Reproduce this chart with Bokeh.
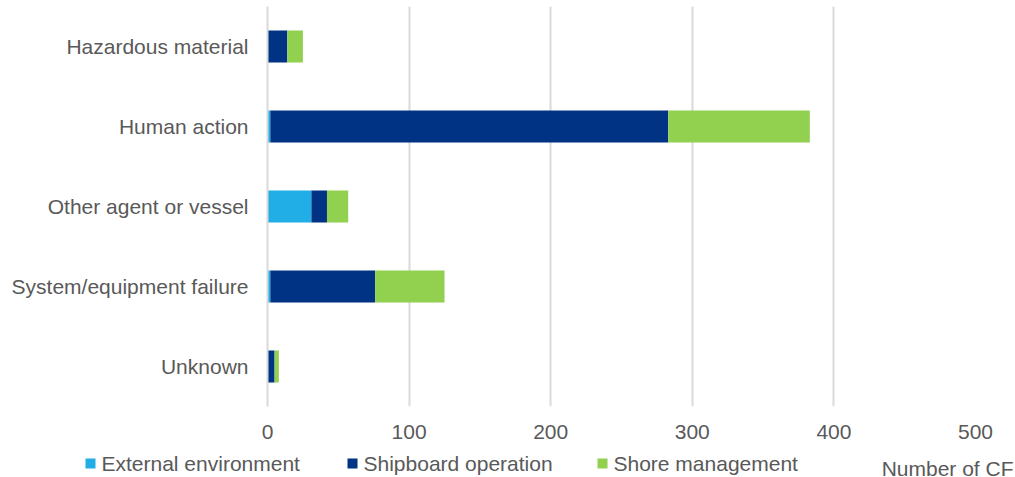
from bokeh.plotting import figure
from bokeh.models import Range1d, FactorRange, FixedTicker, ColumnDataSource
from bokeh.core.properties import value
from bokeh.embed import file_html
from bokeh.resources import INLINE

categories = ["Hazardous material", "Human action", "Other agent or vessel",
              "System/equipment failure", "Unknown"]
external = [0, 2, 31, 2, 0]
shipboard = [14, 281, 11, 74, 5]
shore = [11, 100, 15, 49, 3]
series = ["External environment", "Shipboard operation", "Shore management"]
colors = ["#21ADE5", "#003383", "#92D050"]
x_ticks = [0, 100, 200, 300, 400, 500]
x_title = "Number of CF"

FONT = "Liberation Sans"
TXT = "#595959"

source = ColumnDataSource(dict(cat=categories, ext=external, ship=shipboard, shore=shore))

p = figure(width=1015, height=451, output_backend="svg", toolbar_location=None,
           y_range=FactorRange(factors=list(reversed(categories))),
           x_range=Range1d(0, 500),
           min_border_left=267, min_border_right=40, min_border_top=6, min_border_bottom=45)
p.outline_line_color = None
p.background_fill_color = "white"

p.hbar_stack(["ext", "ship", "shore"], y="cat", height=0.4, color=colors,
             line_color=None, source=source)

p.xaxis.ticker = FixedTicker(ticks=x_ticks)
p.xaxis.axis_line_color = None
p.xaxis.major_tick_line_color = None
p.xaxis.minor_tick_line_color = None
p.xaxis.major_tick_out = 0
p.xaxis.major_tick_in = 0
p.xaxis.major_label_text_font = FONT
p.xaxis.major_label_text_font_size = "21px"
p.xaxis.major_label_text_color = TXT
p.xaxis.major_label_standoff = 18

p.yaxis.axis_line_color = "#d9d9d9"
p.yaxis.axis_line_width = 2
p.yaxis.major_tick_line_color = None
p.yaxis.minor_tick_line_color = None
p.yaxis.major_label_text_font = FONT
p.yaxis.major_label_text_font_size = "21px"
p.yaxis.major_label_text_color = TXT
p.yaxis.major_label_standoff = 13

p.ygrid.grid_line_color = None
p.xgrid.grid_line_color = "#d9d9d9"
p.xgrid.grid_line_width = 2

# bottom strip (separate root, pixel-scaled frame) holding the legend row and the axis title
Q_H = 30
q = figure(width=1015, height=Q_H, output_backend="svg", toolbar_location=None,
           x_range=Range1d(0, 1015), y_range=Range1d(0, Q_H),
           x_axis_location=None, y_axis_location=None,
           min_border_left=0, min_border_right=0, min_border_top=0, min_border_bottom=0)
q.outline_line_color = None
q.xgrid.grid_line_color = None
q.ygrid.grid_line_color = None

legend_x = [90, 352, 602]   # swatch centres (layout positions)
legend_y = Q_H - 12
q.scatter(x=legend_x, y=[legend_y] * 3, marker="square", size=10,
          fill_color=colors, line_color=None)
q.text(x=[x + 11 for x in legend_x], y=[legend_y] * 3, text=series,
       text_font=value(FONT), text_font_size="21px", text_color=TXT,
       text_baseline="middle", text_align="left")
q.text(x=[1013], y=[Q_H - 17], text=[x_title],
       text_font=value(FONT), text_font_size="21px", text_color=TXT,
       text_baseline="middle", text_align="right")

open("out.html", "w").write(file_html([p, q], INLINE))
